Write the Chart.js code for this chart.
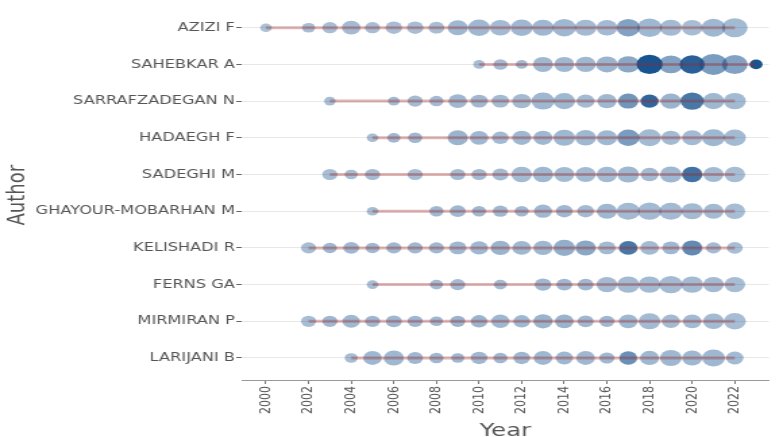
<!DOCTYPE html>
<html>
<head>
<meta charset="utf-8">
<script src="https://cdn.jsdelivr.net/npm/chart.js@4"></script>
<style>
  html, body { margin: 0; padding: 0; background: #fff; overflow: hidden; }
  #wrap { width: 580px; height: 437px; transform: scaleX(1.35); transform-origin: 0 0; }
</style>
</head>
<body>
<div id="wrap"><canvas id="myChart" width="580" height="437"></canvas></div>
<script>
// authors, top to bottom
var authors = ['AZIZI F', 'SAHEBKAR A', 'SARRAFZADEGAN N', 'HADAEGH F', 'SADEGHI M',
    'GHAYOUR-MOBARHAN M', 'KELISHADI R', 'FERNS GA', 'MIRMIRAN P', 'LARIJANI B'];
var years = [2000, 2001, 2002, 2003, 2004, 2005, 2006, 2007, 2008, 2009, 2010, 2011,
    2012, 2013, 2014, 2015, 2016, 2017, 2018, 2019, 2020, 2021, 2022, 2023];
var yearTicks = [2000, 2002, 2004, 2006, 2008, 2010, 2012, 2014, 2016, 2018, 2020, 2022];

// articles per year (one row per author, 2000..2023)
var articles = [
    [1,0,2,4,9,4,6,6,5,12,16,13,16,15,19,15,13,19,23,15,13,21,25,0],
    [0,0,0,0,0,0,0,0,0,0,1,3,1,12,12,13,15,16,26,21,23,33,25,2],
    [0,0,0,1,0,0,1,4,3,9,7,7,10,18,15,8,10,12,8,13,19,15,16,0],
    [0,0,0,0,0,1,2,3,0,12,9,6,10,10,15,13,12,16,18,10,12,18,16,0],
    [0,0,0,4,2,4,0,4,0,4,4,5,13,13,12,12,13,15,8,15,13,12,13,0],
    [0,0,0,0,0,1,0,0,3,5,3,4,3,8,6,6,12,18,19,18,15,12,13,0],
    [0,0,4,3,5,3,4,4,4,7,8,10,9,10,15,12,7,9,9,7,12,4,5,0],
    [0,0,0,0,0,1,0,0,2,4,0,2,0,6,5,5,13,16,16,19,16,13,13,0],
    [0,0,4,4,7,4,5,4,2,4,6,8,6,10,9,5,4,9,15,8,9,13,16,0],
    [0,0,0,0,2,9,12,5,3,2,6,3,6,9,7,9,4,8,10,15,12,18,7,0]
];
// total citations per year (drives the shade)
var tcPerYear = [
    [5,0,8,8,10,8,8,8,8,12,12,10,12,12,12,10,10,30,12,10,8,12,10,0],
    [0,0,0,0,0,0,0,0,0,0,8,10,10,12,12,12,15,25,95,30,85,35,30,95],
    [0,0,0,8,0,0,10,10,10,12,12,10,10,12,12,10,12,40,80,15,65,12,10,0],
    [0,0,0,0,0,8,12,12,0,15,12,10,12,12,12,12,12,35,10,10,10,12,10,0],
    [0,0,0,8,8,10,0,8,0,10,10,10,10,12,10,10,10,12,10,12,70,10,8,0],
    [0,0,0,0,0,8,0,0,12,12,12,12,12,12,12,10,12,10,10,10,10,10,8,0],
    [0,0,8,12,12,12,12,12,12,12,12,15,12,12,20,25,10,65,10,12,50,10,8,0],
    [0,0,0,0,0,8,0,0,10,10,0,10,0,12,12,12,10,10,10,10,10,10,8,0],
    [0,0,8,12,12,12,12,12,12,15,15,12,12,15,15,12,12,12,10,10,10,10,8,0],
    [0,0,0,0,8,12,12,12,12,12,12,12,12,12,12,12,12,45,12,12,12,12,10,0]
];

var points = [];
var lines = [];
authors.forEach(function(name, i) {
    var first = null, last = null;
    years.forEach(function(yr, j) {
        var n = articles[i][j];
        if (n > 0) {
            points.push({ x: yr, y: i, r: 3 + 1.3 * Math.sqrt(n), tc: tcPerYear[i][j] });
            if (first === null) first = yr;
            last = yr;
        }
    });
    lines.push({
        type: 'line',
        data: [{ x: first, y: i }, { x: last, y: i }],
        borderColor: 'rgba(160,40,40,0.35)',
        borderWidth: 3,
        pointRadius: 0,
        order: 0
    });
});

var ctx = document.getElementById('myChart');
var myChart = new Chart(ctx, {
    type: 'bubble',
    data: {
        datasets: lines.concat([{
            data: points,
            backgroundColor: function(c) {
                var p = c.raw;
                var a = p ? 0.32 + 0.68 * p.tc / 100 : 0.3;
                return 'rgba(16,78,139,' + a + ')';
            },
            borderWidth: 0,
            order: 1
        }])
    },
    options: {
        responsive: false,
        animation: false,
        layout: { padding: 0 },
        plugins: { legend: { display: false }, tooltip: { enabled: false } },
        scales: {
            x: {
                type: 'linear',
                position: 'bottom',
                min: 1998.86,
                max: 2023.6,
                afterBuildTicks: function(s) {
                    s.ticks = yearTicks.map(function(v) { return { value: v }; });
                },
                afterFit: function(s) { s.height = 57; },
                ticks: {
                    color: '#555',
                    font: { family: 'DejaVu Sans', size: 11 },
                    minRotation: 90,
                    maxRotation: 90,
                    padding: 2,
                    callback: function(v) { return String(v); }
                },
                grid: { drawOnChartArea: false, tickLength: 4, tickColor: '#777' },
                border: { display: true, color: '#999' },
                title: {
                    display: true,
                    text: 'Year',
                    color: '#555',
                    font: { family: 'DejaVu Sans', size: 18, lineHeight: 0.6 },
                    padding: 0
                }
            },
            y: {
                type: 'linear',
                reverse: true,
                min: -0.47,
                max: 9.6,
                afterBuildTicks: function(s) {
                    s.ticks = authors.map(function(a, i) { return { value: i }; });
                },
                afterFit: function(s) { s.width = 179; },
                ticks: {
                    color: '#555',
                    font: { family: 'DejaVu Sans', size: 12 },
                    padding: 1,
                    callback: function(v) { return authors[v]; }
                },
                grid: { color: '#e8e8e8', tickLength: 4, tickColor: '#666' },
                border: { display: false },
                title: {
                    display: true,
                    text: 'Author',
                    color: '#555',
                    font: { family: 'DejaVu Sans', size: 18 },
                    padding: { top: 3, bottom: 0 }
                }
            }
        }
    }
});
</script>
</body>
</html>
